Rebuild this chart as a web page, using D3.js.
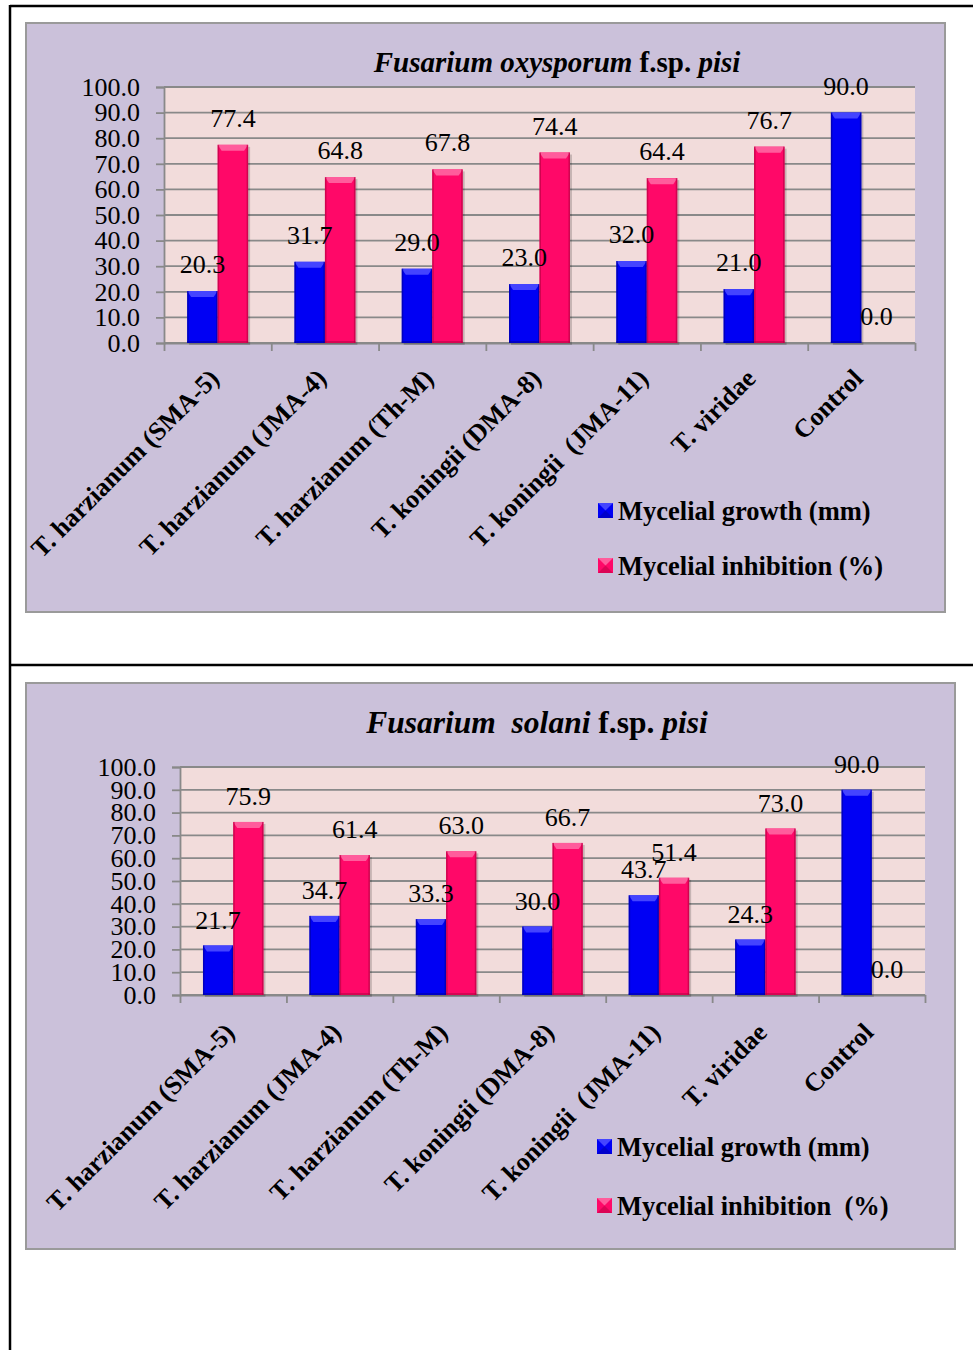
<!DOCTYPE html>
<html>
<head>
<meta charset="utf-8">
<script src="https://cdn.jsdelivr.net/npm/d3@7/dist/d3.min.js"></script>
<style>
  html, body { margin: 0; padding: 0; background: #ffffff; }
  svg { display: block; }
  text { font-family: "Liberation Serif", "Times New Roman", serif; fill: #000; }
</style>
</head>
<body>
<svg id="page" width="973" height="1350"></svg>
<script>
// Treatments (x categories)
const categories = [
  "T. harzianum (SMA-5)",
  "T. harzianum (JMA-4)",
  "T. harzianum (Th-M)",
  "T. koningii (DMA-8)",
  "T. koningii  (JMA-11)",
  "T. viridae",
  "Control"
];

// Fusarium oxysporum f.sp. pisi
const oxyGrowth = [20.3, 31.7, 29.0, 23.0, 32.0, 21.0, 90.0];
const oxyInhibition = [77.4, 64.8, 67.8, 74.4, 64.4, 76.7, 0.0];

// Fusarium solani f.sp. pisi
const solaniGrowth = [21.7, 34.7, 33.3, 30.0, 43.7, 24.3, 90.0];
const solaniInhibition = [75.9, 61.4, 63.0, 66.7, 51.4, 73.0, 0.0];

const yTicks = [0, 10, 20, 30, 40, 50, 60, 70, 80, 90, 100];
const growthName = "Mycelial growth (mm)";
const inhibitionNames = ["Mycelial inhibition (%)", "Mycelial inhibition  (%)"];

const palette = {
  growth: { base: "#0000f4", light: "#4444ff", dark: "#00009a" },
  inhibition: { base: "#ff0868", light: "#ff5c9c", dark: "#b0003f" }
};

const svg = d3.select("#page");

// page frame lines
const frame = svg.append("g").attr("stroke", "#000").attr("stroke-width", 2.5);
frame.append("line").attr("x1", 10).attr("x2", 973).attr("y1", 6).attr("y2", 6);
frame.append("line").attr("x1", 10).attr("x2", 973).attr("y1", 665).attr("y2", 665);
frame.append("line").attr("x1", 10).attr("x2", 10).attr("y1", 5).attr("y2", 1350);

function bevelBar(g, x, y, w, h, col) {
  if (h <= 0) return;
  const b = Math.min(5, h / 2);
  g.append("rect").attr("x", x + 2).attr("y", y + 2).attr("width", w).attr("height", h)
    .attr("fill", "#000").attr("opacity", 0.18);
  g.append("rect").attr("x", x).attr("y", y).attr("width", w).attr("height", h).attr("fill", col.base);
  g.append("polygon")
    .attr("points", [[x, y], [x + w, y], [x + w - 4, y + b + 1], [x + 4, y + b + 1]].map(p => p.join(",")).join(" "))
    .attr("fill", col.light);
  g.append("rect").attr("x", x).attr("y", y).attr("width", 1.5).attr("height", h).attr("fill", col.dark).attr("opacity", 0.6);
  g.append("rect").attr("x", x + w - 1.5).attr("y", y).attr("width", 1.5).attr("height", h).attr("fill", col.dark).attr("opacity", 0.6);
  g.append("rect").attr("x", x).attr("y", y + h - 2).attr("width", w).attr("height", 2).attr("fill", col.dark).attr("opacity", 0.5);
}

function drawChart(cfg) {
  const g = svg.append("g");

  // outer chart panel
  g.append("rect")
    .attr("x", cfg.panel[0]).attr("y", cfg.panel[1])
    .attr("width", cfg.panel[2]).attr("height", cfg.panel[3])
    .attr("fill", "#cbc1da").attr("stroke", "#9a9a9a").attr("stroke-width", 2);

  const [pl, pt, pr, pb] = cfg.plot;
  g.append("rect").attr("x", pl).attr("y", pt).attr("width", pr - pl).attr("height", pb - pt)
    .attr("fill", "#f2dcdb");

  const y = d3.scaleLinear().domain([0, 100]).range([pb, pt]);
  const x = d3.scaleBand().domain(categories).range([pl, pr]).padding(0);
  const xs = d3.scaleBand().domain(["growth", "inhibition"]).range([0, x.bandwidth()])
    .paddingInner(0).paddingOuter(0.76);

  // horizontal gridlines
  g.append("g").selectAll("line").data(yTicks).join("line")
    .attr("x1", pl).attr("x2", pr)
    .attr("y1", d => y(d)).attr("y2", d => y(d))
    .attr("stroke", "#898989").attr("stroke-width", 1.8);

  // y axis
  const yAxis = g.append("g").attr("transform", `translate(${pl},0)`)
    .call(d3.axisLeft(y).tickValues(yTicks).tickFormat(d3.format(".1f")).tickSize(8).tickPadding(16));
  yAxis.select(".domain").attr("stroke", "#898989").attr("stroke-width", 1.8);
  yAxis.selectAll(".tick line").attr("stroke", "#898989").attr("stroke-width", 1.8);
  yAxis.selectAll(".tick text").attr("font-size", 26)
    .attr("font-family", '"Liberation Serif", "Times New Roman", serif').attr("fill", "#000");

  // x axis with boundary ticks
  const xb = d3.scaleLinear().domain([0, categories.length]).range([pl, pr]);
  const xAxis = g.append("g").attr("transform", `translate(0,${pb})`)
    .call(d3.axisBottom(xb).tickValues(d3.range(categories.length + 1)).tickFormat("").tickSize(8).tickSizeOuter(0));
  xAxis.select(".domain").attr("stroke", "#898989").attr("stroke-width", 1.8);
  xAxis.selectAll(".tick line").attr("stroke", "#898989").attr("stroke-width", 1.8);

  // bars
  const series = [
    { key: "growth", values: cfg.growth, col: palette.growth },
    { key: "inhibition", values: cfg.inhibition, col: palette.inhibition }
  ];
  const bars = g.append("g");
  series.forEach(s => {
    s.values.forEach((v, i) => {
      const bx = x(categories[i]) + xs(s.key);
      bevelBar(bars, bx, y(v), xs.bandwidth(), y(0) - y(v), s.col);
    });
  });

  // value labels
  const labels = g.append("g");
  series.forEach(s => {
    labels.selectAll(null).data(s.values).join("text")
      .attr("x", (v, i) => x(categories[i]) + xs(s.key) + xs.bandwidth() / 2)
      .attr("y", v => y(v) - cfg.labelGap)
      .attr("text-anchor", "middle").attr("font-size", 26)
      .text(v => d3.format(".1f")(v));
  });

  // rotated category labels
  g.append("g").selectAll("text").data(categories).join("text")
    .attr("transform", d => `translate(${x(d) + x.bandwidth() / 2 + 3},${pb + cfg.catDrop}) rotate(-45)`)
    .attr("text-anchor", "end").attr("font-size", 26).attr("font-weight", "bold")
    .style("white-space", "pre")
    .text(d => d);

  // title
  const t = g.append("text").attr("x", cfg.titlePos[0]).attr("y", cfg.titlePos[1])
    .attr("text-anchor", "middle").attr("font-size", cfg.titleSize).attr("font-weight", "bold")
    .style("white-space", "pre");
  cfg.title.forEach(part => {
    t.append("tspan").attr("font-style", part.italic ? "italic" : "normal").text(part.text);
  });

  // legend
  const legendItems = [
    { name: growthName, col: palette.growth },
    { name: cfg.inhibitionName, col: palette.inhibition }
  ];
  const lg = g.append("g");
  legendItems.forEach((it, i) => {
    const ly = cfg.legend[1] + i * cfg.legendStep;
    const lx = cfg.legend[0];
    lg.append("rect").attr("x", lx).attr("y", ly - 17).attr("width", 15).attr("height", 15).attr("fill", it.col.base);
    lg.append("polygon")
      .attr("points", [[lx, ly - 17], [lx + 15, ly - 17], [lx + 7.5, ly - 9.5]].map(p => p.join(",")).join(" "))
      .attr("fill", it.col.light);
    lg.append("polygon")
      .attr("points", [[lx, ly - 2], [lx + 15, ly - 2], [lx + 7.5, ly - 9.5]].map(p => p.join(",")).join(" "))
      .attr("fill", it.col.dark).attr("opacity", 0.45);
    lg.append("text").attr("x", lx + 20).attr("y", ly)
      .attr("font-size", 26.5).attr("font-weight", "bold").style("white-space", "pre")
      .text(it.name);
  });
}

drawChart({
  panel: [26, 23, 919, 589],
  plot: [164, 87, 915, 343],
  growth: oxyGrowth,
  inhibition: oxyInhibition,
  labelGap: 18,
  catDrop: 37,
  title: [
    { text: "Fusarium oxysporum ", italic: true },
    { text: "f.sp. ", italic: false },
    { text: "pisi", italic: true }
  ],
  titleSize: 29,
  titlePos: [557, 72],
  legend: [598, 520],
  legendStep: 55,
  inhibitionName: inhibitionNames[0]
});

drawChart({
  panel: [26, 683, 929, 566],
  plot: [180, 767, 925, 995],
  growth: solaniGrowth,
  inhibition: solaniInhibition,
  labelGap: 17,
  catDrop: 39,
  title: [
    { text: "Fusarium  solani ", italic: true },
    { text: "f.sp. ", italic: false },
    { text: "pisi", italic: true }
  ],
  titleSize: 31.5,
  titlePos: [537, 733],
  legend: [597, 1156],
  legendStep: 59,
  inhibitionName: inhibitionNames[1]
});
</script>
</body>
</html>
